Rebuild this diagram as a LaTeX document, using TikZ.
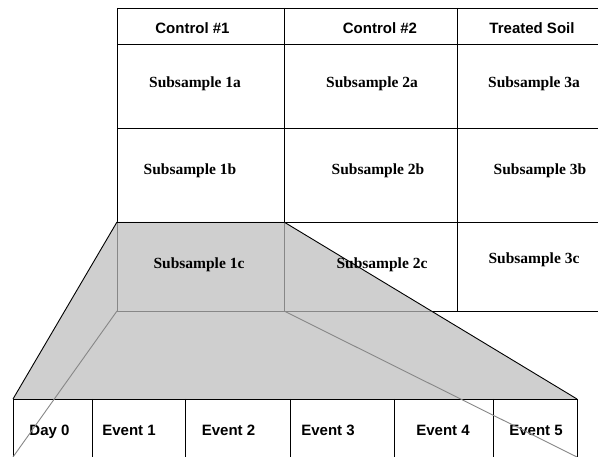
\documentclass[tikz,border=0pt]{standalone}
\usepackage{fontspec}
\setmainfont{Liberation Serif}
\newfontfamily\hvfont{Liberation Sans}
\definecolor{fillgray}{RGB}{207,207,207}
\definecolor{linegray}{RGB}{135,135,135}
\tikzset{
  hd/.style={anchor=base, inner sep=0pt, font=\hvfont\bfseries\fontsize{15}{18}\selectfont},
  sub/.style={anchor=base, inner sep=0pt, font=\bfseries\fontsize{15.5}{18}\selectfont},
  tbl/.style={draw=black, line width=0.9pt},
  glin/.style={draw=linegray, line width=0.9pt},
}
\begin{document}
\begin{tikzpicture}[x=1pt,y=-1pt]
\useasboundingbox (0,0) rectangle (598,457);
% corner coordinates
\coordinate (tl) at (117,222);
\coordinate (tr) at (284,222);
\coordinate (bl) at (117,311);
\coordinate (br) at (284,311);
\coordinate (ix) at (431.3,311);
\coordinate (el) at (13,399);
\coordinate (er) at (577,399);
\coordinate (dl) at (13,457);
\coordinate (dr) at (577,457);
% main table lines
\draw[tbl] (117,8) -- (598,8);
\draw[tbl] (117,44) -- (598,44);
\draw[tbl] (117,128) -- (598,128);
\draw[tbl] (117,222) -- (598,222);
\draw[tbl] (117,311) -- (598,311);
\draw[tbl] (117,8) -- (117,222);
\draw[tbl] (284,8) -- (284,222);
\draw[tbl] (457,8) -- (457,311);
% gray zoom trapezoid
\fill[fillgray] (tl) -- (tr) -- (er) -- (el) -- cycle;
\draw[glin] (tl) -- (bl) -- (br) -- (tr);
\draw[glin] (br) -- (ix);
\draw[tbl] (tl) -- (el);
\draw[tbl] (tr) -- (er);
\draw[tbl] (tl) -- (tr);
% events table
\draw[tbl] (el) -- (er);
\foreach \x in {13,92,185,290,394,493,577} \draw[tbl] (\x,399) -- (\x,457);
% header texts
\node[hd] (h1) at (192.5,34) {Control \#1};
\node[hd] (h2) at (380,34) {Control \#2};
\node[hd] (h3) at (532,34) {Treated Soil};
% subsamples
\node[sub] (s1a) at (195,87.5) {Subsample 1a};
\node[sub] (s2a) at (372,87.5) {Subsample 2a};
\node[sub] (s3a) at (534,87.5) {Subsample 3a};
\node[sub] (s1b) at (190,175) {Subsample 1b};
\node[sub] (s2b) at (378,175) {Subsample 2b};
\node[sub] (s3b) at (540,175) {Subsample 3b};
\node[sub] (s1c) at (199,269) {Subsample 1c};
\node[sub] (s2c) at (382,269) {Subsample 2c};
\node[sub] (s3c) at (534,264) {Subsample 3c};
% events
\node[hd] (d0) at (49.5,436) {Day 0};
\node[hd] (e1) at (129,436) {Event 1};
\node[hd] (e2) at (228.5,436) {Event 2};
\node[hd] (e3) at (328,436) {Event 3};
\node[hd] (e4) at (443,436) {Event 4};
\node[hd] (e5) at (536,436) {Event 5};
% diagonals over text
\draw[glin] (bl) -- (dl);
\draw[glin] (br) -- (dr);
\end{tikzpicture}
\end{document}
